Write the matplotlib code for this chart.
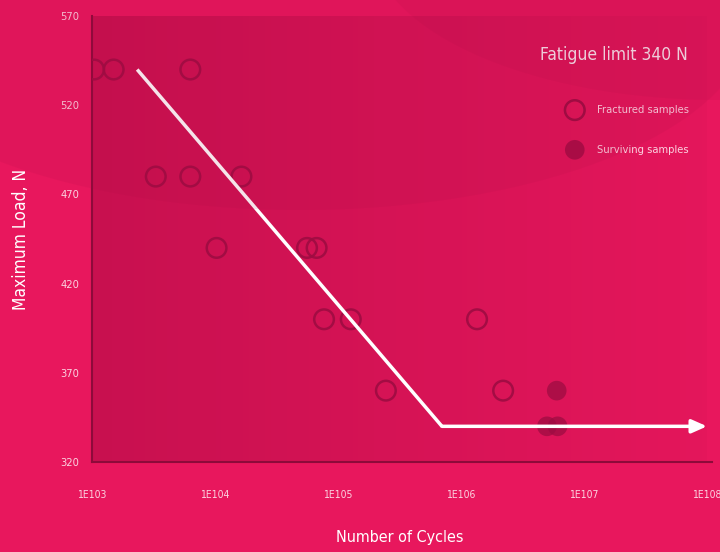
import numpy as np
import matplotlib
matplotlib.use("Agg")
import matplotlib.pyplot as plt
from matplotlib.patches import Ellipse

plt.rcParams['font.family'] = ['DejaVu Sans']
plt.rcParams['font.stretch'] = 'condensed'

# fractured samples (open circles)
fractured_cycles = [1.04e3, 1.5e3, 6.3e3, 3.3e3, 6.3e3, 1.64e4, 1.03e4, 5.6e4, 6.7e4,
                    7.7e4, 1.27e5, 2.45e5, 1.35e6, 2.2e6]
fractured_load = [540, 540, 540, 480, 480, 480, 440, 440, 440, 400, 400, 360, 400, 360]

# surviving samples (filled circles)
surviving_cycles = [6.0e6, 5.0e6, 6.1e6]
surviving_load = [360, 340, 340]

# S-N curve
curve_cycles = [2.33e3, 7.0e5, 1.0e8]
curve_load = [540, 340, 340]

x_ticks = [1e3, 1e4, 1e5, 1e6, 1e7, 1e8]
x_labels = ['1E103', '1E104', '1E105', '1E106', '1E107', '1E108']
y_ticks = [320, 370, 420, 470, 520, 570]

bg = '#e8175d'
dark = '#9e0c42'
txt = '#fbd3e0'

fig = plt.figure(figsize=(7.2, 5.52), dpi=100, facecolor=bg)

# decorative arcs in the background
fig.patches.append(Ellipse((300 / 720, 1 - 20 / 552), 900 / 720, 380 / 552,
                           transform=fig.transFigure, facecolor='#a80c45', alpha=0.11,
                           edgecolor='none', zorder=0))
fig.patches.append(Ellipse((720 / 720, 1 + 60 / 552), 700 / 720, 320 / 552,
                           transform=fig.transFigure, facecolor='#a80c45', alpha=0.10,
                           edgecolor='none', zorder=0))

ax = fig.add_axes([92 / 720, 1 - 462 / 552, 615 / 720, 446 / 552])
ax.set_facecolor('none')

# shaded plot area, darker on the left
n = 256
grad = np.zeros((1, n, 4))
grad[..., 0] = 0.66
grad[..., 1] = 0.04
grad[..., 2] = 0.26
grad[..., 3] = np.linspace(0.5, 0.06, n)
ax.imshow(grad, extent=[0, 1, 0, 1.01], transform=ax.transAxes, aspect='auto',
          zorder=0, interpolation='bilinear')

ax.set_xscale('log')
ax.set_xlim(1e3, 1e8)
ax.set_ylim(320, 570)

ax.scatter(fractured_cycles, fractured_load, s=200, facecolors='none',
           edgecolors=dark, linewidths=1.8, alpha=0.9, zorder=3)
ax.scatter(surviving_cycles, surviving_load, s=200, color=dark, alpha=0.75,
           edgecolors='none', zorder=3)

ax.plot(curve_cycles[:2], curve_load[:2], color='white', lw=2.5, zorder=4,
        solid_capstyle='butt')
ax.annotate('', xy=(curve_cycles[2], curve_load[2]), xytext=(curve_cycles[1], curve_load[1]),
            arrowprops=dict(arrowstyle='-|>,head_length=0.9,head_width=0.4', color='white',
                            lw=2.5, shrinkA=0, shrinkB=0), zorder=4)

ax.set_xticks(x_ticks)
ax.set_xticklabels(x_labels)
ax.xaxis.set_minor_locator(matplotlib.ticker.NullLocator())
ax.set_yticks(y_ticks)
ax.tick_params(axis='both', length=0, colors=txt, labelsize=7.5)
ax.tick_params(axis='y', labelsize=8)
ax.tick_params(axis='x', pad=20)
ax.tick_params(axis='y', pad=9)

for s in ['top', 'right']:
    ax.spines[s].set_visible(False)
for s in ['left', 'bottom']:
    ax.spines[s].set_color('#8e0a3a')
    ax.spines[s].set_linewidth(1.5)
ax.spines['bottom'].set_bounds(1e3, 1.1e8)

ax.set_xlabel('Number of Cycles', color='white', fontsize=11.5, labelpad=22)
ax.set_ylabel('Maximum Load, N', color='white', fontsize=12.5, labelpad=22)

# legend
ax.text(0.969, 0.913, 'Fatigue limit 340 N', transform=ax.transAxes, ha='right',
        va='center', color='white', fontsize=12.5)
ax.scatter([0.785], [0.789], s=200, transform=ax.transAxes, facecolors='none',
           edgecolors=dark, linewidths=1.8, clip_on=False, zorder=3)
ax.scatter([0.785], [0.700], s=200, transform=ax.transAxes, color=dark, alpha=0.8,
           edgecolors='none', clip_on=False, zorder=3)
ax.text(0.821, 0.789, 'Fractured samples', transform=ax.transAxes, va='center',
        color=txt, fontsize=8)
ax.text(0.821, 0.700, 'Surviving samples', transform=ax.transAxes, va='center',
        color=txt, fontsize=8)

fig.savefig('out.png', dpi=100, facecolor=bg)
